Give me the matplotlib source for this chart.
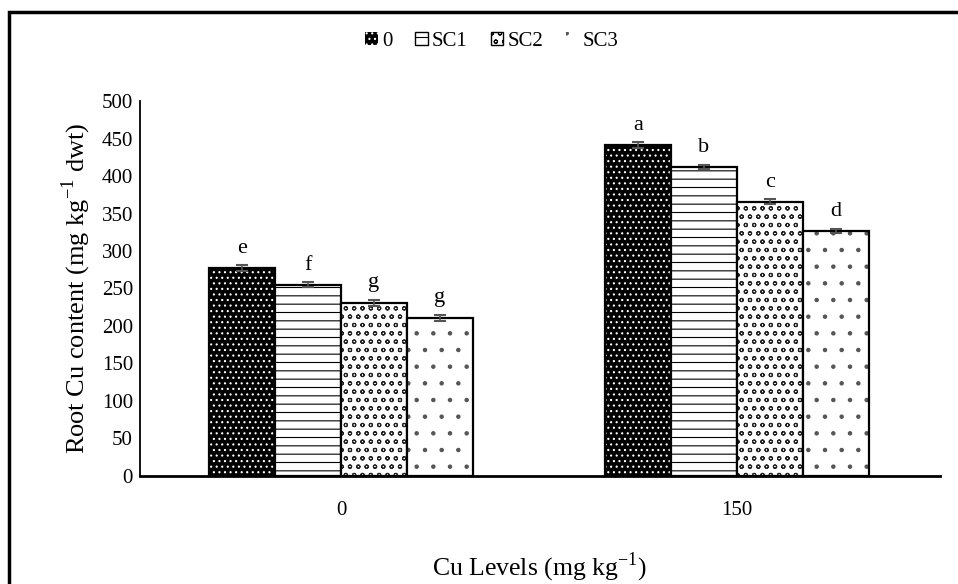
import numpy as np
import matplotlib.pyplot as plt
from matplotlib.patches import Rectangle

plt.rcParams['font.family'] = ['Liberation Serif', 'DejaVu Serif']
plt.rcParams['mathtext.fontset'] = 'custom'
plt.rcParams['mathtext.rm'] = 'Liberation Serif'
plt.rcParams['hatch.linewidth'] = 0.8

cu_levels = ["0", "150"]
treatments = ["0", "SC1", "SC2", "SC3"]
values = {
    "0": [277, 441],
    "SC1": [255, 412],
    "SC2": [231, 366],
    "SC3": [211, 327],
}
errors = {
    "0": [4, 4],
    "SC1": [3, 3],
    "SC2": [4, 3],
    "SC3": [4, 3],
}
letters = {
    "0": ["e", "a"],
    "SC1": ["f", "b"],
    "SC2": ["g", "c"],
    "SC3": ["g", "d"],
}
hatches = {"0": "...", "SC1": "--", "SC2": "oo", "SC3": "."}
face = {"0": "black", "SC1": "white", "SC2": "white", "SC3": "white"}
hatch_col = {"0": "white", "SC1": "black", "SC2": "#222222", "SC3": "#555555"}

fig = plt.figure(figsize=(9.58, 5.84), dpi=100)
ax = fig.add_axes([0.146, 0.185, 0.835, 0.642])

x = np.arange(len(cu_levels))
width = 0.1667
for i, t in enumerate(treatments):
    pos = x + (i - 1.5) * width
    # hatch fill, then black outline on top
    ax.bar(pos, values[t], width, color=face[t], edgecolor=hatch_col[t],
           hatch=hatches[t], linewidth=0, label=t)
    ax.bar(pos, values[t], width, fill=False, edgecolor='black', linewidth=1.6)
    ax.errorbar(pos, values[t], yerr=errors[t], fmt='none', ecolor='#555555',
                capsize=4, elinewidth=1.2, capthick=1.5)
    for p, v, e, l in zip(pos, values[t], errors[t], letters[t]):
        ax.text(p, v + e + 10, l, ha='center', va='bottom', fontsize=16)

ax.set_xlim(-0.508, 1.513)
ax.set_ylim(0, 500)
ax.set_yticks(range(0, 501, 50))
ax.set_xticks(x)
ax.set_xticklabels(cu_levels)
ax.tick_params(axis='both', length=0, labelsize=15)
ax.tick_params(axis='y', pad=5)
ax.tick_params(axis='x', pad=18)
for s in ['top', 'right']:
    ax.spines[s].set_visible(False)
ax.spines['left'].set_linewidth(1.3)
ax.spines['bottom'].set_linewidth(2)

ax.set_ylabel("Root Cu content (mg kg$^{-1}$ dwt)", fontsize=19, labelpad=6)
ax.set_xlabel("Cu Levels (mg kg$^{-1}$)", fontsize=18.5, labelpad=22)

leg = ax.legend(loc='upper center', bbox_to_anchor=(0.44, 1.235), ncol=4, frameon=False,
                fontsize=15, handlelength=0.6, handleheight=0.6, handletextpad=0.2,
                columnspacing=1.1)
# SC3 swatch shows only its dots, like the original
for t, h in zip(treatments, leg.legend_handles):
    if t in ("SC1", "SC2"):
        h.set_edgecolor('black')
        h.set_linewidth(1.0)

# outer frame (cropped at right and bottom)
fig.patches.append(Rectangle((9 / 958, -0.05), 1.2, 1 - 12 / 584 + 0.05,
                             transform=fig.transFigure, fill=False,
                             edgecolor='black', linewidth=2.5))

fig.savefig("out.png", dpi=100)
